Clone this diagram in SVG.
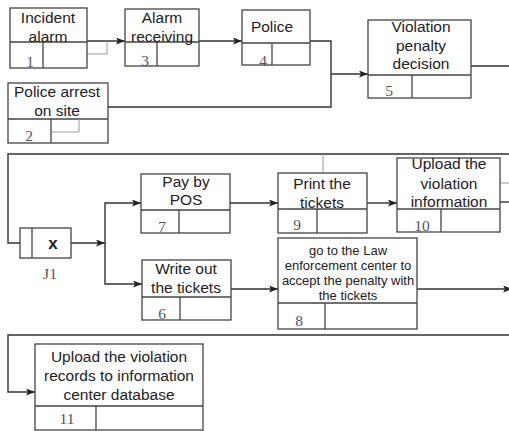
<svg xmlns="http://www.w3.org/2000/svg" width="509" height="431" viewBox="0 0 509 431">
<style>
.box{fill:#fff;stroke:#444;stroke-width:1.3}
.div{fill:none;stroke:#444;stroke-width:1.3}
.t{font-family:"Liberation Sans",Arial,sans-serif;font-size:15.5px;fill:#222;text-anchor:middle}
.s{font-size:13px}
.n{font-family:"Liberation Serif","Times New Roman",serif;font-size:15.5px;fill:#555;text-anchor:middle}
.c{fill:none;stroke:#333;stroke-width:1.4}
.g{fill:none;stroke:#999;stroke-width:1}
</style>
<defs>
<marker id="ah" markerWidth="9" markerHeight="7" refX="9" refY="3.5" orient="auto" markerUnits="userSpaceOnUse">
<path d="M0,0 L9,3.5 L0,7 L2,3.5 z" fill="#222"/>
</marker>
</defs>
<rect width="509" height="431" fill="#fff"/>
<g id="connectors">
<path class="c" d="M87,41 H125" marker-end="url(#ah)"/>
<path class="g" d="M87,54 H107 V41"/>
<path class="c" d="M199,41 H242" marker-end="url(#ah)"/>
<path class="c" d="M310,41 H331 V107 H108"/>
<path class="c" d="M331,74 H368" marker-end="url(#ah)"/>
<path class="c" d="M471,66 H509"/>
<path class="c" d="M509,154 H8 V243 H20"/>
<path class="c" d="M71,243 H105" marker-end="url(#ah)"/>
<path class="c" d="M105,243 V203 H141" marker-end="url(#ah)"/>
<path class="c" d="M105,243 V284 H142" marker-end="url(#ah)"/>
<path class="c" d="M230,203 H278" marker-end="url(#ah)"/>
<path class="g" d="M323,154 V173"/>
<path class="c" d="M367,203 H397" marker-end="url(#ah)"/>
<path class="g" d="M500,183 H509"/>
<path class="c" d="M500,202 H509"/>
<path class="c" d="M231,289 H278" marker-end="url(#ah)"/>
<path class="c" d="M417,289 H512" marker-end="url(#ah)"/>
<path class="c" d="M509,335 H8 V392 H35" marker-end="url(#ah)"/>
</g>
<g id="n1">
<rect class="box" x="10" y="8" width="77" height="60"/>
<path class="div" d="M10,42 H87 M43,42 V68"/>
<text class="t" x="48" y="23">Incident</text>
<text class="t" x="48" y="42">alarm</text>
<text class="n" x="30" y="67">1</text>
</g>
<g id="n3">
<rect class="box" x="125" y="9" width="74" height="57"/>
<path class="div" d="M125,42 H199 M157,42 V66"/>
<text class="t" x="162" y="23">Alarm</text>
<text class="t" x="162" y="42">receiving</text>
<text class="n" x="145" y="66">3</text>
</g>
<g id="n4">
<rect class="box" x="242" y="10" width="68" height="55"/>
<path class="div" d="M242,43 H310 M272,43 V65"/>
<text class="t" x="272" y="32">Police</text>
<text class="n" x="263" y="66">4</text>
</g>
<g id="n5">
<rect class="box" x="368" y="20" width="103" height="78"/>
<path class="div" d="M368,75 H471 M412,75 V98"/>
<text class="t" x="421" y="32">Violation</text>
<text class="t" x="421" y="51">penalty</text>
<text class="t" x="421" y="69">decision</text>
<text class="n" x="389" y="96">5</text>
</g>
<g id="n2">
<rect class="box" x="8" y="83" width="100" height="60"/>
<path class="div" d="M8,119 H108 M51,119 V143"/>
<path class="g" d="M51,132 H79 V119"/>
<text class="t" x="57" y="97">Police arrest</text>
<text class="t" x="57" y="116">on site</text>
<text class="n" x="29" y="141">2</text>
</g>
<g id="J1">
<rect class="box" x="20" y="228" width="51" height="30"/>
<path class="div" d="M32,228 V258"/>
<text class="t" x="53" y="249" style="font-weight:bold;font-size:17px">x</text>
<text class="n" x="50" y="279">J1</text>
</g>
<g id="n7">
<rect class="box" x="141" y="174" width="89" height="59"/>
<path class="div" d="M141,210 H230 M179,210 V233"/>
<text class="t" x="186" y="187">Pay by</text>
<text class="t" x="186" y="205">POS</text>
<text class="n" x="162" y="232">7</text>
</g>
<g id="n6">
<rect class="box" x="142" y="260" width="89" height="60"/>
<path class="div" d="M142,297 H231 M180,297 V320"/>
<text class="t" x="186" y="274">Write out</text>
<text class="t" x="186" y="293">the tickets</text>
<text class="n" x="162" y="319">6</text>
</g>
<g id="n9">
<rect class="box" x="278" y="173" width="89" height="60"/>
<path class="div" d="M278,209 H367 M317,209 V233"/>
<text class="t" x="322" y="189">Print the</text>
<text class="t" x="322" y="208">tickets</text>
<text class="n" x="297" y="230">9</text>
</g>
<g id="n10">
<rect class="box" x="397" y="158" width="103" height="74"/>
<path class="div" d="M397,209 H500 M441,209 V232"/>
<text class="t" x="449" y="169">Upload the</text>
<text class="t" x="449" y="189">violation</text>
<text class="t" x="449" y="207">information</text>
<text class="n" x="422" y="231">10</text>
</g>
<g id="n8">
<rect class="box" x="278" y="238" width="139" height="91"/>
<path class="div" d="M278,303 H417 M325,303 V329"/>
<text class="t s" x="348" y="255">go to the Law</text>
<text class="t s" x="348" y="270">enforcement center to</text>
<text class="t s" x="348" y="285">accept the penalty with</text>
<text class="t s" x="348" y="300">the tickets</text>
<text class="n" x="299" y="326">8</text>
</g>
<g id="n11">
<rect class="box" x="35" y="344" width="168" height="86"/>
<path class="div" d="M35,406 H203 M96,406 V430"/>
<text class="t" x="119" y="362">Upload the violation</text>
<text class="t" x="119" y="381">records to information</text>
<text class="t" x="119" y="400">center database</text>
<text class="n" x="67" y="424">11</text>
</g>
</svg>
